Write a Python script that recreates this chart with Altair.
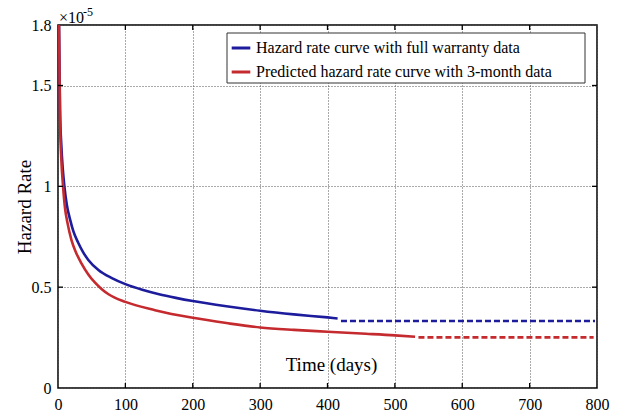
import altair as alt
import pandas as pd

# ---- data (hazard rate, units of 1e-5) ----
blue_name = "Hazard rate curve with full warranty data"
red_name = "Predicted hazard rate curve with 3-month data"

blue_x = [1.5, 3, 5, 7, 9.5, 13, 18, 23, 30, 37, 45, 60, 80, 100, 125, 150, 175, 200, 250, 300, 350, 400, 415]
blue_y = [1.80, 1.38, 1.20, 1.09, 1.00, 0.91, 0.835, 0.775, 0.72, 0.675, 0.635, 0.585, 0.545, 0.515,
          0.487, 0.465, 0.447, 0.431, 0.405, 0.383, 0.365, 0.35, 0.345]
blue_dash_x = [420, 797]
blue_dash_y = [0.332, 0.332]

red_x = [1.5, 3, 5, 7.5, 10.5, 14, 20, 27, 35, 45, 55, 65, 75, 100, 144, 200, 250, 300, 350, 400, 450, 500, 530]
red_y = [1.80, 1.33, 1.13, 1.00, 0.89, 0.82, 0.733, 0.67, 0.617, 0.563, 0.522, 0.49, 0.465, 0.427,
         0.386, 0.348, 0.322, 0.30, 0.288, 0.279, 0.27, 0.261, 0.254]
red_dash_x = [535, 795]
red_dash_y = [0.251, 0.251]

x_ticks = [0, 100, 200, 300, 400, 500, 600, 700, 800]
y_ticks = [0, 0.5, 1, 1.5, 1.8]
x_inner_ticks = [100, 200, 300, 400, 500, 600, 700]
y_inner_ticks = [0.5, 1, 1.5]

BLUE = "#1c1c9c"
RED = "#c42a2e"
FONT = "Liberation Serif"
W, H = 539, 363

solid = pd.concat([
    pd.DataFrame({"t": blue_x, "h": blue_y, "series": blue_name}),
    pd.DataFrame({"t": red_x, "h": red_y, "series": red_name}),
])
dashed = pd.concat([
    pd.DataFrame({"t": blue_dash_x, "h": blue_dash_y, "series": blue_name}),
    pd.DataFrame({"t": red_dash_x, "h": red_dash_y, "series": red_name}),
])

xscale = alt.Scale(domain=[0, 800], nice=False)
yscale = alt.Scale(domain=[0, 1.8], nice=False)
cscale = alt.Scale(domain=[blue_name, red_name], range=[BLUE, RED])

x_enc = alt.X("t:Q", scale=xscale, axis=alt.Axis(
    values=x_ticks, format="d", title="Time (days)",
    titleX=273, titleY=-33, titleAnchor=None, titleAlign="center", titleBaseline="top",
    labelPadding=8))
y_enc = alt.Y("h:Q", scale=yscale, axis=alt.Axis(
    values=y_ticks, format=".1~f", title="Hazard Rate",
    titleX=-28, titleY=H / 2, titleAngle=270, titleAlign="center", titleBaseline="alphabetic",
    labelPadding=7))

x_plain = alt.X("t:Q", scale=xscale)
y_plain = alt.Y("h:Q", scale=yscale)

color_enc = alt.Color("series:N", scale=cscale, title=None, legend=alt.Legend(
    orient="none", legendX=172, legendY=12, symbolType="stroke", symbolSize=346,
    symbolStrokeWidth=3, labelFont=FONT, labelFontSize=16, labelColor="black",
    labelOffset=4, rowPadding=5, padding=0, labelLimit=500))

box = alt.Chart(alt.Data(values=[{}])).mark_rect(
    fill="white", stroke="#333", strokeWidth=1).encode(
    x=alt.value(169), x2=alt.value(527), y=alt.value(8), y2=alt.value(58))

solid_lines = alt.Chart(solid).mark_line(strokeWidth=2.6, interpolate="monotone", clip=True).encode(
    x=x_enc, y=y_enc, color=color_enc, detail="series:N")
dashed_lines = alt.Chart(dashed).mark_line(strokeWidth=2.6, strokeDash=[6, 3], clip=True).encode(
    x=x_plain, y=y_plain, color=alt.Color("series:N", scale=cscale, legend=None),
    detail="series:N")

xt = pd.DataFrame({"t": x_inner_ticks})
yt = pd.DataFrame({"h": y_inner_ticks})
tick_bottom = alt.Chart(xt).mark_rule(color="black", strokeWidth=1.3).encode(
    x=x_plain, y=alt.value(H), y2=alt.value(H - 5))
tick_top = alt.Chart(xt).mark_rule(color="black", strokeWidth=1.3).encode(
    x=x_plain, y=alt.value(0), y2=alt.value(5))
tick_left = alt.Chart(yt).mark_rule(color="black", strokeWidth=1.3).encode(
    y=y_plain, x=alt.value(0), x2=alt.value(5))
tick_right = alt.Chart(yt).mark_rule(color="black", strokeWidth=1.3).encode(
    y=y_plain, x=alt.value(W), x2=alt.value(W - 5))

mult = alt.Chart(alt.Data(values=[{"s": "×10"}])).mark_text(
    font=FONT, fontSize=16, align="left", baseline="alphabetic", color="black").encode(
    x=alt.value(1), y=alt.value(-2.5), text="s:N")
expo = alt.Chart(alt.Data(values=[{"s": "-5"}])).mark_text(
    font=FONT, fontSize=12, align="left", baseline="alphabetic", color="black").encode(
    x=alt.value(25), y=alt.value(-9.5), text="s:N")

chart = alt.layer(
    box, solid_lines, dashed_lines, tick_bottom, tick_top, tick_left, tick_right, mult, expo
).properties(
    width=W, height=H,
    autosize=alt.AutoSizeParams(type="none"),
    padding={"left": 58, "top": 25, "right": 33, "bottom": 27},
    background="white",
).configure_view(stroke="black", strokeWidth=1.5
).configure_axis(
    grid=True, gridDash=[1, 2], gridColor="#555", gridWidth=1,
    ticks=False, domain=False, labelFlush=False,
    labelFont=FONT, labelFontSize=16, labelColor="black",
    titleFont=FONT, titleFontSize=19, titleFontWeight="normal", titleColor="black",
)

chart.save("out.html", embed_options={"renderer": "svg", "actions": False})
